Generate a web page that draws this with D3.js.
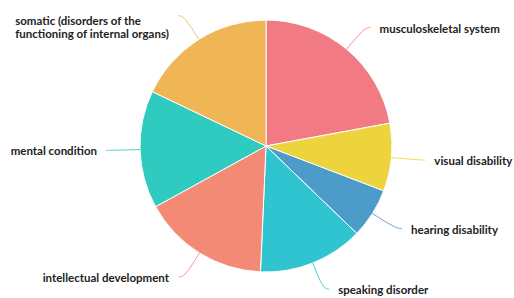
<!DOCTYPE html>
<html>
<head>
<meta charset="utf-8">
<script src="https://cdn.jsdelivr.net/npm/d3@7"></script>
<style>
  html, body { margin: 0; padding: 0; background: #fff; }
  svg { display: block; }
</style>
</head>
<body>
<svg id="pie"></svg>
<script>
const categories = [
  "musculoskeletal system",
  "visual disability",
  "hearing disability",
  "speaking disorder",
  "intellectual development",
  "mental condition",
  "somatic (disorders of the|functioning of internal organs)"
];
const values = [22.1, 8.7, 6.4, 13.5, 16.3, 15.1, 17.9];
const colors = ["#f27b83", "#eed43c", "#4d9bc9", "#2fc4cf", "#f38a75", "#2fcbc0", "#f0b656"];

const width = 514,
  height = 298,
  cx = 266,
  cy = 146,
  radius = 126,
  len1 = 28,   // radial part of the label line
  len2 = 6,    // horizontal part
  gap = 9,
  lineH = 13.5;

const svg = d3.select("#pie").attr("width", width).attr("height", height);
const g = svg.append("g").attr("transform", `translate(${cx},${cy})`);

const data = categories.map((c, i) => ({name: c, value: values[i], color: colors[i]}));

const pie = d3.pie().sort(null).value((d) => d.value);
const arc = d3.arc().innerRadius(0).outerRadius(radius);
const arcs = pie(data);

g.selectAll("path.slice")
  .data(arcs)
  .enter()
  .append("path")
  .attr("class", "slice")
  .attr("d", arc)
  .attr("fill", (d) => d.data.color)
  .attr("stroke", "#fff")
  .attr("stroke-width", 1);

// label lines, ECharts-ish smooth
const line = d3.line().curve(d3.curveBasis);
function pt(a, r) {
  return [Math.sin(a) * r, -Math.cos(a) * r];
}

arcs.forEach((d) => {
  const mid = (d.startAngle + d.endAngle) / 2;
  const side = Math.sin(mid) >= 0 ? 1 : -1;
  const p1 = pt(mid, radius);
  const p2 = pt(mid, radius + len1);
  const p3 = [p2[0] + side * len2, p2[1]];

  g.append("path")
    .attr("d", line([p1, p2, p3]))
    .attr("fill", "none")
    .attr("stroke", d.data.color)
    .attr("stroke-opacity", 0.85)
    .attr("stroke-width", 1);

  const lines = d.data.name.split("|");
  const blockH = lines.length * lineH;
  // keep labels inside the top edge
  let yc = p3[1];
  const minTop = 13 - cy;
  if (yc - blockH / 2 < minTop) yc = minTop + blockH / 2;

  const text = g.append("text")
    .attr("font-family", "Lato, 'Open Sans', sans-serif")
    .attr("font-weight", "bold")
    .attr("font-size", "11.5px")
    .attr("fill", "#222")
    .attr("dominant-baseline", "central");

  lines.forEach((t, i) => {
    text.append("tspan")
      .attr("y", yc - blockH / 2 + lineH / 2 + i * lineH)
      .attr("x", 0)
      .text(t);
  });

  // right side: start after the line; left side: block ends before the line
  const bw = text.node().getBBox().width;
  const x0 = side > 0 ? p3[0] + gap : p3[0] - gap - bw;
  text.selectAll("tspan").attr("x", x0);
});
</script>
</body>
</html>
